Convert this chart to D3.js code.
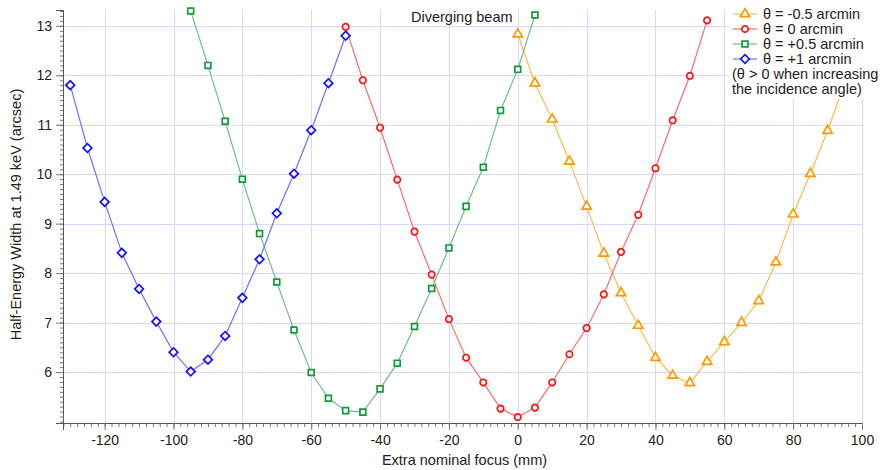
<!DOCTYPE html>
<html>
<head>
<meta charset="utf-8">
<script src="https://cdn.jsdelivr.net/npm/d3@7/dist/d3.min.js"></script>
<style>
  body { margin: 0; background: #fff; }
  svg { display: block; font-family: "Liberation Sans", Arial, Helvetica, sans-serif; }
</style>
</head>
<body>
<svg id="chart" width="881" height="470"></svg>
<script>
// Half-energy width vs. extra focus distance, for four tilt angles θ
const focusM05 = [0, 5, 10, 15, 20, 25, 30, 35, 40, 45, 50, 55, 60, 65, 70, 75, 80, 85, 90, 95];
const hewM05   = [12.83, 11.84, 11.11, 10.26, 9.35, 8.40, 7.60, 6.94, 6.29, 5.93, 5.78, 6.21, 6.61, 7.00, 7.44, 8.22, 9.19, 10.01, 10.88, 11.85];

const focus0 = [-50, -45, -40, -35, -30, -25, -20, -15, -10, -5, 0, 5, 10, 15, 20, 25, 30, 35, 40, 45, 50, 55];
const hew0   = [12.98, 11.90, 10.94, 9.89, 8.84, 7.97, 7.07, 6.29, 5.79, 5.26, 5.09, 5.28, 5.79, 6.36, 6.89, 7.57, 8.43, 9.18, 10.12, 11.09, 11.99, 13.11];

const focusP05 = [-95, -90, -85, -80, -75, -70, -65, -60, -55, -50, -45, -40, -35, -30, -25, -20, -15, -10, -5, 0, 5];
const hewP05   = [13.30, 12.20, 11.07, 9.90, 8.80, 7.82, 6.85, 5.99, 5.47, 5.22, 5.19, 5.66, 6.18, 6.92, 7.69, 8.51, 9.35, 10.14, 11.29, 12.12, 13.22];

const focusP1 = [-130, -125, -120, -115, -110, -105, -100, -95, -90, -85, -80, -75, -70, -65, -60, -55, -50];
const hewP1   = [11.80, 10.53, 9.44, 8.41, 7.68, 7.02, 6.40, 6.01, 6.25, 6.73, 7.50, 8.28, 9.21, 10.01, 10.89, 11.84, 12.80];

const seriesLabels = ["θ = -0.5 arcmin", "θ = 0 arcmin", "θ = +0.5 arcmin", "θ = +1 arcmin"];
const noteLines = ["(θ > 0 when increasing", "the incidence angle)"];
const xTicks = [-120, -100, -80, -60, -40, -20, 0, 20, 40, 60, 80, 100];
const yTicks = [6, 7, 8, 9, 10, 11, 12, 13];

const xTitle = "Extra nominal focus (mm)";
const yTitle = "Half-Energy Width at 1.49 keV (arcsec)";
const annotation = "Diverging beam";

const series = [
  { x: focusM05, y: hewM05, label: seriesLabels[0], mark: "#ff9900", line: "#ffb84d", shape: "triangle" },
  { x: focus0,   y: hew0,   label: seriesLabels[1], mark: "#ff1010", line: "#ff6a6a", shape: "circle" },
  { x: focusP05, y: hewP05, label: seriesLabels[2], mark: "#119a3a", line: "#74bd8a", shape: "square" },
  { x: focusP1,  y: hewP1,  label: seriesLabels[3], mark: "#1010ff", line: "#7070ff", shape: "diamond" }
];

const svg = d3.select("#chart");
const plotLeft = 63, plotRight = 862, plotTop = 10, plotBottom = 423;

const x = d3.scaleLinear().domain([-132.1, 100]).range([plotLeft, plotRight]);
const y = d3.scaleLinear().domain([4.97, 13.32]).range([plotBottom, plotTop]);

// grid
const grid = svg.append("g").attr("stroke", "#d8d8ff").attr("stroke-width", 1);
grid.selectAll("line.v").data(xTicks).join("line")
  .attr("x1", d => Math.round(x(d)) + 0.5).attr("x2", d => Math.round(x(d)) + 0.5)
  .attr("y1", plotTop).attr("y2", plotBottom);
grid.selectAll("line.h").data(yTicks).join("line")
  .attr("y1", d => Math.round(y(d)) + 0.5).attr("y2", d => Math.round(y(d)) + 0.5)
  .attr("x1", plotLeft).attr("x2", plotRight);

// axes
const fontSize = 14;
const textSize = 14.5;
const xMinor = d3.range(-132, 100.01, 2);
const yMinor = d3.range(5, 13.31, 0.1);

const xAxisMinor = d3.axisBottom(x).tickValues(xMinor).tickSize(4).tickFormat("");
const xAxisMajor = d3.axisBottom(x).tickValues(xTicks).tickSize(7).tickPadding(5).tickFormat(d3.format("d"));
const yAxisMinor = d3.axisLeft(y).tickValues(yMinor).tickSize(3).tickFormat("");
const yAxisMajor = d3.axisLeft(y).tickValues(yTicks).tickSize(7).tickPadding(4).tickFormat(d3.format("d"));

function styleAxis(g) {
  g.select(".domain").attr("stroke", "#555");
  g.selectAll(".tick line").attr("stroke", "#777");
  g.selectAll("text").attr("fill", "#222").style("font-size", fontSize + "px")
    .style("font-family", "'Liberation Sans', Arial, Helvetica, sans-serif");
}
svg.append("g").attr("transform", `translate(0,${plotBottom})`).call(xAxisMinor).call(styleAxis);
svg.append("g").attr("transform", `translate(0,${plotBottom})`).call(xAxisMajor).call(styleAxis)
  .selectAll("text").text(d => d < 0 ? "-" + Math.abs(d) : d);
svg.append("g").attr("transform", `translate(${plotLeft},0)`).call(yAxisMinor).call(styleAxis);
svg.append("g").attr("transform", `translate(${plotLeft},0)`).call(yAxisMajor).call(styleAxis);

// axis titles
svg.append("text").attr("x", (plotLeft + plotRight) / 2 + 2).attr("y", 465)
  .attr("text-anchor", "middle").attr("fill", "#222").style("font-size", textSize + "px").text(xTitle);
svg.append("text").attr("transform", `translate(21,${(plotTop + plotBottom) / 2 - 2}) rotate(-90)`)
  .attr("text-anchor", "middle").attr("fill", "#222").style("font-size", textSize + "px").text(yTitle);

// symbols
const symbolFor = {
  triangle: d3.symbol().type(d3.symbolTriangle).size(38)(),
  circle: d3.symbol().type(d3.symbolCircle).size(32)(),
  square: d3.symbol().type(d3.symbolSquare).size(34)(),
  diamond: d3.symbol().type(d3.symbolSquare).size(38)()
};
function placeMark(sel, s) {
  sel.attr("d", symbolFor[s.shape])
    .attr("fill", "#fff").attr("stroke", s.mark).attr("stroke-width", 1.7);
}
function markTransform(s, px, py) {
  return s.shape === "diamond" ? `translate(${px},${py}) rotate(45)` : `translate(${px},${py})`;
}

const lineGen = d3.line().x(d => x(d[0])).y(d => y(d[1]));
series.forEach(s => {
  const pts = s.x.map((v, i) => [v, s.y[i]]);
  svg.append("path").datum(pts).attr("d", lineGen)
    .attr("fill", "none").attr("stroke", s.line).attr("stroke-width", 1.2);
  svg.append("g").selectAll("path").data(pts).join("path")
    .each(function () { placeMark(d3.select(this), s); })
    .attr("transform", d => markTransform(s, x(d[0]), y(d[1])));
});

// annotation
svg.append("text").attr("x", 411).attr("y", 22).attr("fill", "#222")
  .style("font-size", textSize + "px").text(annotation);

// legend
const lg = svg.append("g");
lg.append("rect").attr("x", 729).attr("y", 3).attr("width", 152).attr("height", 96).attr("fill", "#fff");
series.forEach((s, i) => {
  const cy = 14 + i * 15;
  lg.append("line").attr("x1", 733).attr("x2", 757).attr("y1", cy).attr("y2", cy)
    .attr("stroke", s.line).attr("stroke-width", 1.2);
  lg.append("path").call(sel => placeMark(sel, s)).attr("transform", markTransform(s, 745, cy));
  lg.append("text").attr("x", 763).attr("y", cy + 5).attr("fill", "#222")
    .style("font-size", textSize + "px").text(s.label);
});
noteLines.forEach((t, i) => {
  lg.append("text").attr("x", 732).attr("y", 74 + i * 15 + 5).attr("fill", "#222")
    .style("font-size", textSize + "px").text(t);
});
</script>
</body>
</html>
